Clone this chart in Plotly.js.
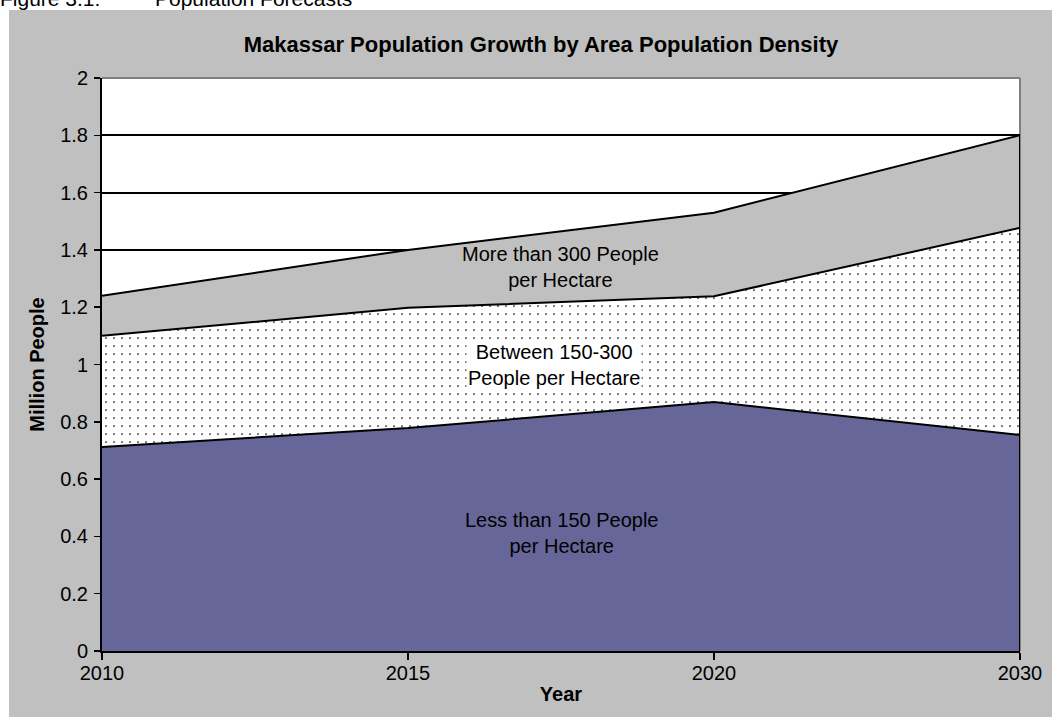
<!DOCTYPE html>
<html>
<head>
<meta charset="utf-8">
<script src="https://cdn.plot.ly/plotly-3.0.1.min.js"></script>
<style>
  html, body { margin: 0; padding: 0; background: #ffffff; width: 1052px; height: 717px; overflow: hidden; }
  #caption { position: absolute; top: -12px; left: 0; font-family: "Liberation Sans", Arial, sans-serif; font-size: 21px; line-height: 21px; color: #000; white-space: pre; }
  #caption span.b { position: absolute; left: 155px; top: 0; }
  #chart { position: absolute; left: 9px; top: 10px; width: 1043px; height: 707px; }
</style>
</head>
<body>
<div id="caption"><span>Figure 3.1:</span><span class="b">Population Forecasts</span></div>
<div id="chart"></div>
<script>
// ---- data ----
const years = ['2010', '2015', '2020', '2030'];
const lessThan150 = [0.712, 0.778, 0.869, 0.754];
const between150to300 = [0.388, 0.420, 0.369, 0.723];
const moreThan300 = [0.140, 0.202, 0.292, 0.323];
const yTickVals = [0, 0.2, 0.4, 0.6, 0.8, 1, 1.2, 1.4, 1.6, 1.8, 2];
const yTickText = ['0', '0.2', '0.4', '0.6', '0.8', '1', '1.2', '1.4', '1.6', '1.8', '2'];
const labelLess = 'Less than 150 People<br>per Hectare';
const labelBetween = 'Between 150-300<br>People per Hectare';
const labelMore = 'More than 300 People<br>per Hectare';

const FONT = '"Liberation Sans", Arial, sans-serif';
const last = years.length - 1;
const totalLast = lessThan150[last] + between150to300[last] + moreThan300[last];

const traces = [
  {
    type: 'scatter', mode: 'lines', x: years, y: lessThan150, stackgroup: 'pop',
    name: 'Less than 150 People per Hectare',
    line: { color: '#000000', width: 2 }, fillcolor: '#666699', hoverinfo: 'skip'
  },
  {
    type: 'scatter', mode: 'lines', x: years, y: between150to300, stackgroup: 'pop',
    name: 'Between 150-300 People per Hectare',
    line: { color: '#000000', width: 2 }, fillcolor: '#ffffff',
    fillpattern: { shape: '.', bgcolor: '#ffffff', fgcolor: '#000000', size: 8, solidity: 0.035 },
    hoverinfo: 'skip'
  },
  {
    type: 'scatter', mode: 'lines', x: years, y: moreThan300, stackgroup: 'pop',
    name: 'More than 300 People per Hectare',
    line: { color: '#000000', width: 2 }, fillcolor: '#c0c0c0', hoverinfo: 'skip'
  },
  {
    type: 'scatter', mode: 'lines', x: [years[last], years[last]], y: [0, totalLast],
    line: { color: '#000000', width: 2 }, showlegend: false, hoverinfo: 'skip'
  }
];

const layout = {
  width: 1043, height: 707,
  margin: { l: 93, r: 32, t: 68, b: 66 },
  paper_bgcolor: '#c0c0c0', plot_bgcolor: '#ffffff',
  showlegend: false,
  font: { family: FONT, size: 20, color: '#000000' },
  title: {
    text: '<b>Makassar Population Growth by Area Population Density</b>',
    font: { family: FONT, size: 22, color: '#000000' },
    xref: 'container', yref: 'container', x: 0.51, y: 1 - 34 / 707,
    xanchor: 'center', yanchor: 'middle'
  },
  xaxis: {
    type: 'category', range: [0, last], fixedrange: true,
    showgrid: false, zeroline: false,
    showline: true, linecolor: '#000000', linewidth: 2,
    ticks: 'outside', ticklen: 7, tickwidth: 1.5, tickcolor: '#000000',
    ticklabelstandoff: -4,
    tickfont: { family: FONT, size: 20, color: '#000000' },
    title: { text: '<b>Year</b>', font: { family: FONT, size: 20, color: '#000000' }, standoff: 4 }
  },
  yaxis: {
    range: [0, 2], fixedrange: true,
    tickmode: 'array', tickvals: yTickVals, ticktext: yTickText,
    showgrid: true, gridcolor: '#000000', gridwidth: 2, zeroline: false,
    showline: true, linecolor: '#000000', linewidth: 2,
    ticks: 'outside', ticklen: 6, tickwidth: 1.5, tickcolor: '#000000',
    ticklabelstandoff: 2,
    tickfont: { family: FONT, size: 20, color: '#000000' },
    title: { text: '<b>Million People</b>', font: { family: FONT, size: 20, color: '#000000' }, standoff: 10 }
  },
  shapes: [
    { type: 'line', xref: 'paper', yref: 'paper', x0: 0, x1: 1, y0: 1, y1: 1, line: { color: '#808080', width: 2 }, layer: 'above' },
    { type: 'line', xref: 'paper', yref: 'paper', x0: 1, x1: 1, y0: 0, y1: 1, line: { color: '#808080', width: 2 }, layer: 'below' }
  ],
  annotations: [
    { xref: 'paper', yref: 'y', x: 0.499, y: 1.339, text: labelMore, showarrow: false,
      font: { family: FONT, size: 20, color: '#000000' }, xanchor: 'center', yanchor: 'middle' },
    { xref: 'paper', yref: 'y', x: 0.492, y: 1.0, text: labelBetween, showarrow: false,
      bgcolor: '#ffffff', borderpad: 1,
      font: { family: FONT, size: 20, color: '#000000' }, xanchor: 'center', yanchor: 'middle' },
    { xref: 'paper', yref: 'y', x: 0.501, y: 0.412, text: labelLess, showarrow: false,
      font: { family: FONT, size: 20, color: '#000000' }, xanchor: 'center', yanchor: 'middle' }
  ]
};

Plotly.newPlot('chart', traces, layout, { displayModeBar: false, staticPlot: true });
</script>
</body>
</html>
